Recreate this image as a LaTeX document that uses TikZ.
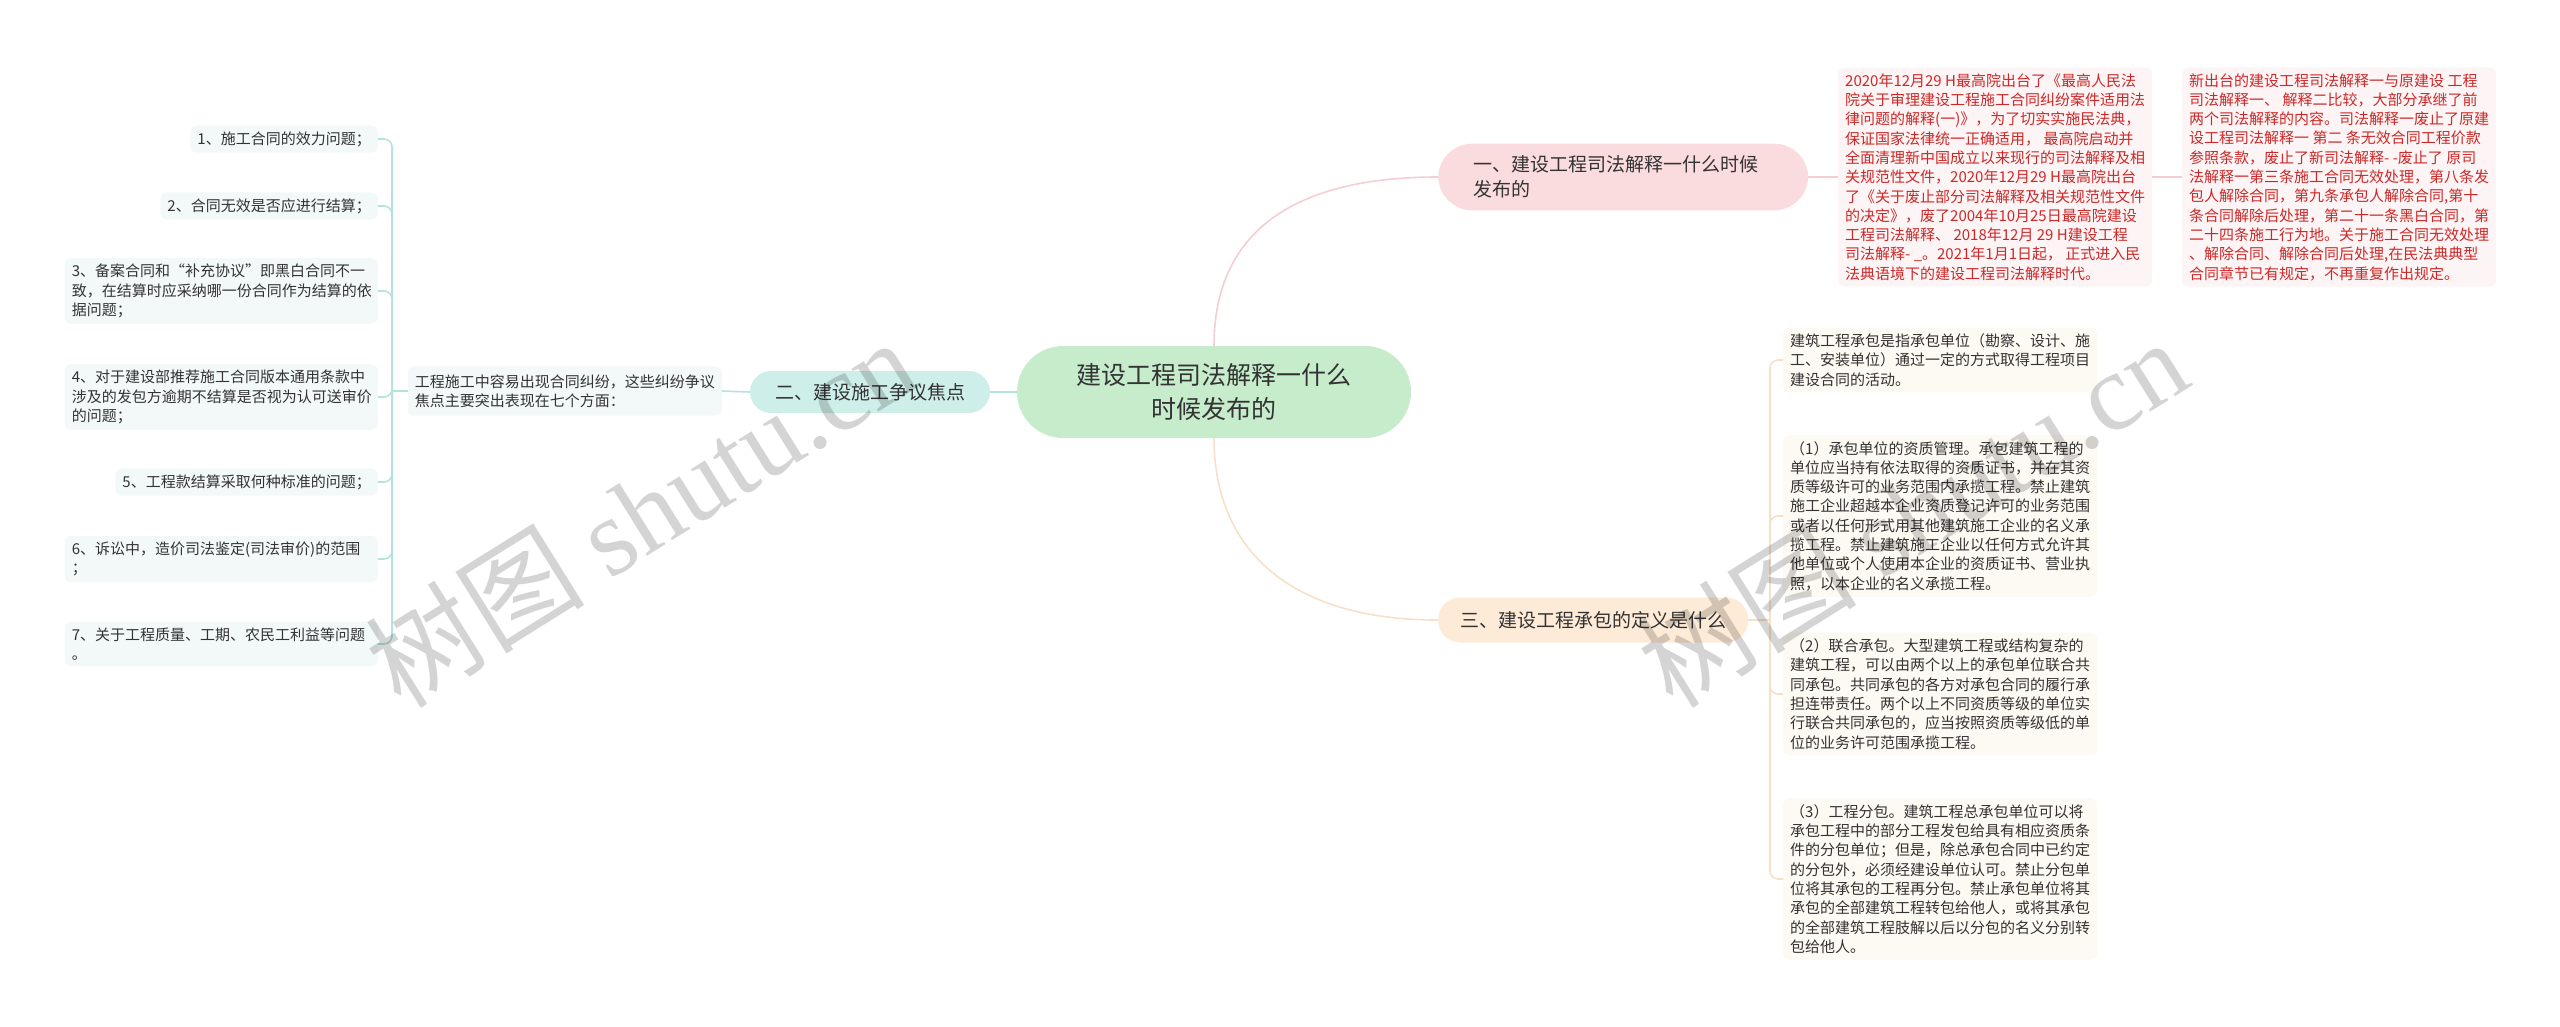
\documentclass[tikz,border=0pt]{standalone}
\usepackage{fontspec}
\setmainfont{Noto Sans CJK SC}
\newfontfamily\wmlatin{Liberation Serif}
\usetikzlibrary{positioning,calc}

\definecolor{txtgray}{RGB}{51,51,51}
\definecolor{centerfill}{RGB}{198,236,204}
\definecolor{tealfill}{RGB}{206,238,233}
\definecolor{pinkfill}{RGB}{250,219,222}
\definecolor{peachfill}{RGB}{253,234,215}
\definecolor{leaffill}{RGB}{243,249,249}
\definecolor{redleaf}{RGB}{253,245,245}
\definecolor{warmleaf}{RGB}{253,249,243}
\definecolor{redtxt}{RGB}{204,40,40}
\definecolor{tealline}{RGB}{178,228,220}
\definecolor{pinkline}{RGB}{245,205,210}
\definecolor{peachline}{RGB}{248,224,200}

\begin{document}
\begin{tikzpicture}[x=1pt,y=-1pt,
    leaf/.style={rounded corners=6pt,inner xsep=7pt,inner ysep=6pt,align=left,
        font=\fontsize{15}{19.3}\selectfont,text=txtgray},
    topic/.style={inner ysep=0pt,align=left,font=\fontsize{19}{25}\selectfont,text=txtgray},
    link/.style={line width=1.6pt},
    wmark/.style={text=black,opacity=0.17,font=\fontsize{110}{110}\selectfont,rotate=32}]
    \useasboundingbox (0,0) rectangle (2560,1027);

    % Root
    \node[fill=centerfill,rounded corners=46pt,minimum width=394pt,minimum height=92pt,
        align=center,font=\fontsize{25}{34}\selectfont,text=txtgray] (root) at (1214,392)
        {建设工程司法解释一什么\\时候发布的};

    % Left branch: dispute focus
    \node[topic,fill=tealfill,rounded corners=21pt,minimum width=240pt,minimum height=42pt,
        align=center] (dispute) at (870,392) {二、建设施工争议焦点};
    \node[leaf,fill=leaffill,anchor=east,inner ysep=8pt] (focus) at (722,391)
        {工程施工中容易出现合同纠纷，这些纠纷争议\\焦点主要突出表现在七个方面：};

    \node[leaf,fill=leaffill,anchor=east] (i1) at (378,139) {1、施工合同的效力问题；};
    \node[leaf,fill=leaffill,anchor=east] (i2) at (378,206) {2、合同无效是否应进行结算；};
    \node[leaf,fill=leaffill,anchor=east,text width=299pt] (i3) at (378,291)
        {3、备案合同和“补充协议”即黑白合同不一\\致，在结算时应采纳哪一份合同作为结算的依\\据问题；};
    \node[leaf,fill=leaffill,anchor=east,text width=299pt] (i4) at (378,397)
        {4、对于建设部推荐施工合同版本通用条款中\\涉及的发包方逾期不结算是否视为认可送审价\\的问题；};
    \node[leaf,fill=leaffill,anchor=east] (i5) at (378,482) {5、工程款结算采取何种标准的问题；};
    \node[leaf,fill=leaffill,anchor=east,text width=299pt] (i6) at (378,559)
        {6、诉讼中，造价司法鉴定(司法审价)的范围\\；};
    \node[leaf,fill=leaffill,anchor=east,text width=299pt] (i7) at (378,644)
        {7、关于工程质量、工期、农民工利益等问题\\。};

    \draw[tealline,link] (root.west) -- (dispute.east);
    \draw[tealline,link] (dispute.west) -- (focus.east);
    \coordinate (lbus) at (392,391);
    \draw[tealline,link] (focus.west) -- (lbus);
    \foreach \n in {i1,i2,i3,i4,i5,i6,i7}
        \draw[tealline,link,rounded corners=8pt] (lbus) |- (\n.east);

    % Upper right branch: when issued
    \node[topic,fill=pinkfill,rounded corners=34pt,anchor=west,inner xsep=35pt,inner ysep=12pt,
        text width=300pt] (when) at (1438,177) {一、建设工程司法解释一什么时候\\发布的};
    \node[leaf,fill=redleaf,text=redtxt,anchor=west] (issued) at (1838,177)
        {2020年12月29 H最高院出台了《最高人民法\\
        院关于审理建设工程施工合同纠纷案件适用法\\
        律问题的解释(一)》，为了切实实施民法典，\\
        保证国家法律统一正确适用， 最高院启动并\\
        全面清理新中国成立以来现行的司法解释及相\\
        关规范性文件，2020年12月29 H最高院出台\\
        了《关于废止部分司法解释及相关规范性文件\\
        的决定》，废了2004年10月25日最高院建设\\
        工程司法解释、 2018年12月 29 H建设工程\\
        司法解释- \_。2021年1月1日起， 正式进入民\\
        法典语境下的建设工程司法解释时代。};
    \node[leaf,fill=redleaf,text=redtxt,anchor=west] (compare) at (2182,177)
        {新出台的建设工程司法解释一与原建设 工程\\
        司法解释一、 解释二比较，大部分承继了前\\
        两个司法解释的内容。司法解释一废止了原建\\
        设工程司法解释一 第二 条无效合同工程价款\\
        参照条款，废止了新司法解释- -废止了 原司\\
        法解释一第三条施工合同无效处理，第八条发\\
        包人解除合同，第九条承包人解除合同,第十\\
        条合同解除后处理，第二十一条黑白合同，第\\
        二十四条施工行为地。关于施工合同无效处理\\
        、解除合同、解除合同后处理,在民法典典型\\
        合同章节已有规定，不再重复作出规定。};

    \draw[pinkline,link] (root.north) .. controls +(0,-110) and +(-150,0) .. (when.west);
    \draw[pinkline,link] (when.east) -- (issued.west);
    \draw[pinkline,link] (issued.east) -- (compare.west);

    % Lower right branch: contracting
    \node[topic,fill=peachfill,rounded corners=22pt,anchor=west,inner xsep=22pt,
        minimum height=45pt] (contract) at (1438,620) {三、建设工程承包的定义是什么};
    \node[leaf,fill=warmleaf,anchor=west] (def) at (1783,360)
        {建筑工程承包是指承包单位（勘察、设计、施\\
        工、安装单位）通过一定的方式取得工程项目\\
        建设合同的活动。};
    \node[leaf,fill=warmleaf,anchor=west] (qual) at (1783,516)
        {（1）承包单位的资质管理。承包建筑工程的\\
        单位应当持有依法取得的资质证书，并在其资\\
        质等级许可的业务范围内承揽工程。禁止建筑\\
        施工企业超越本企业资质登记许可的业务范围\\
        或者以任何形式用其他建筑施工企业的名义承\\
        揽工程。禁止建筑施工企业以任何方式允许其\\
        他单位或个人使用本企业的资质证书、营业执\\
        照，以本企业的名义承揽工程。};
    \node[leaf,fill=warmleaf,anchor=west] (joint) at (1783,694)
        {（2）联合承包。大型建筑工程或结构复杂的\\
        建筑工程，可以由两个以上的承包单位联合共\\
        同承包。共同承包的各方对承包合同的履行承\\
        担连带责任。两个以上不同资质等级的单位实\\
        行联合共同承包的，应当按照资质等级低的单\\
        位的业务许可范围承揽工程。};
    \node[leaf,fill=warmleaf,anchor=west] (sub) at (1783,879)
        {（3）工程分包。建筑工程总承包单位可以将\\
        承包工程中的部分工程发包给具有相应资质条\\
        件的分包单位；但是，除总承包合同中已约定\\
        的分包外，必须经建设单位认可。禁止分包单\\
        位将其承包的工程再分包。禁止承包单位将其\\
        承包的全部建筑工程转包给他人，或将其承包\\
        的全部建筑工程肢解以后以分包的名义分别转\\
        包给他人。};

    \draw[peachline,link] (root.south) .. controls +(0,110) and +(-150,0) .. (contract.west);
    \coordinate (rbus) at (1770,620);
    \draw[peachline,link] (contract.east) -- (rbus);
    \foreach \n in {def,qual,joint,sub}
        \draw[peachline,link,rounded corners=8pt] (rbus) |- (\n.west);

    % Watermarks
    \node[wmark] (wm1) at (640,512) {树图 {\wmlatin shutu.cn}};
    \node[wmark] (wm2) at (1912,512) {树图 {\wmlatin shutu.cn}};
\end{tikzpicture}
\end{document}
